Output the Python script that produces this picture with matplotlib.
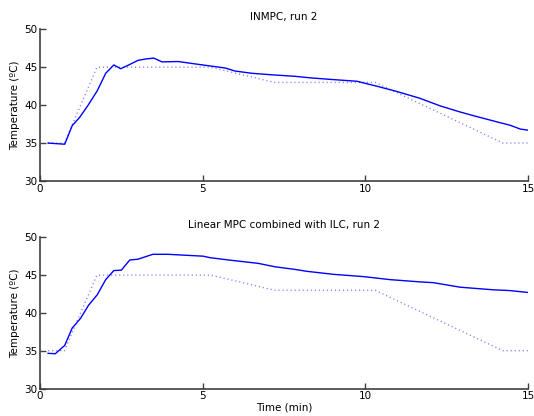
import matplotlib
matplotlib.use("Agg")
import matplotlib.pyplot as plt

# Reference (setpoint) profile
ref_t = [0.25, 0.75, 1.75, 5.25, 7.2, 10.3, 14.23, 15.0]
ref_T = [35.0, 35.0, 45.0, 45.0, 43.0, 43.0, 35.0, 35.0]

# INMPC, run 2
inmpc_t = [0.25, 0.76, 0.99, 1.22, 1.48, 1.76, 2.02, 2.27, 2.48, 2.73, 3.01, 3.27,
           3.5, 3.75, 4.25, 4.66, 5.17, 5.69, 5.99, 6.51, 7.12, 7.84, 8.3, 8.91,
           9.74, 10.35, 10.97, 11.68, 12.3, 12.91, 13.42, 14.04, 14.45, 14.76, 15.0]
inmpc_T = [35.0, 34.85, 37.3, 38.4, 40.0, 41.9, 44.2, 45.3, 44.8, 45.3, 45.9, 46.1,
           46.2, 45.7, 45.75, 45.5, 45.2, 44.9, 44.5, 44.2, 44.0, 43.8, 43.6, 43.4,
           43.15, 42.5, 41.8, 40.9, 39.9, 39.1, 38.5, 37.8, 37.35, 36.85, 36.7]

# Linear MPC combined with ILC, run 2
ilc_t = [0.25, 0.47, 0.76, 0.99, 1.25, 1.49, 1.76, 2.02, 2.27, 2.5, 2.76, 3.01,
         3.47, 3.93, 5.02, 5.23, 5.79, 6.71, 7.22, 7.84, 8.2, 9.02, 9.94, 10.76,
         11.68, 12.09, 12.91, 13.94, 14.45, 15.0]
ilc_T = [34.65, 34.6, 35.7, 38.0, 39.3, 41.0, 42.4, 44.4, 45.6, 45.65, 47.0, 47.1,
         47.75, 47.75, 47.5, 47.3, 47.0, 46.55, 46.1, 45.75, 45.5, 45.1, 44.8, 44.4,
         44.1, 44.0, 43.4, 43.05, 42.95, 42.7]

titles = ["INMPC, run 2", "Linear MPC combined with ILC, run 2"]
xticks = [0, 5, 10, 15]
yticks = [30, 35, 40, 45, 50]

plt.rcParams['font.family'] = ['DejaVu Sans']
fig = plt.figure(figsize=(5.34, 4.16), dpi=100)
ax1 = fig.add_axes([0.0749, 0.5649, 0.9139, 0.3647])
ax2 = fig.add_axes([0.0749, 0.0661, 0.9139, 0.3635])

spine_col = '#404040'
for ax, (t, T), title in zip([ax1, ax2], [(inmpc_t, inmpc_T), (ilc_t, ilc_T)], titles):
    ax.plot(ref_t, ref_T, color='#7f7fff', lw=1.0, linestyle=(0, (0.8, 2.1)))
    ax.plot(t, T, color='#0000ff', lw=1.0)
    ax.set_xlim(0, 15)
    ax.set_ylim(30, 50)
    ax.set_xticks(xticks)
    ax.set_yticks(yticks)
    ax.spines['top'].set_visible(False)
    ax.spines['right'].set_visible(False)
    for s in ['left', 'bottom']:
        ax.spines[s].set_color(spine_col)
        ax.spines[s].set_linewidth(1.2)
    ax.tick_params(direction='in', length=4, width=1, color=spine_col,
                   labelsize=7.5, pad=2)
    ax.set_ylabel('Temperature (ºC)', fontsize=7.5, labelpad=3)
    ax.set_title(title, fontsize=7.5, pad=7)

ax2.set_xlabel('Time (min)', fontsize=7.5, labelpad=1)

fig.savefig('out.png', dpi=100)
